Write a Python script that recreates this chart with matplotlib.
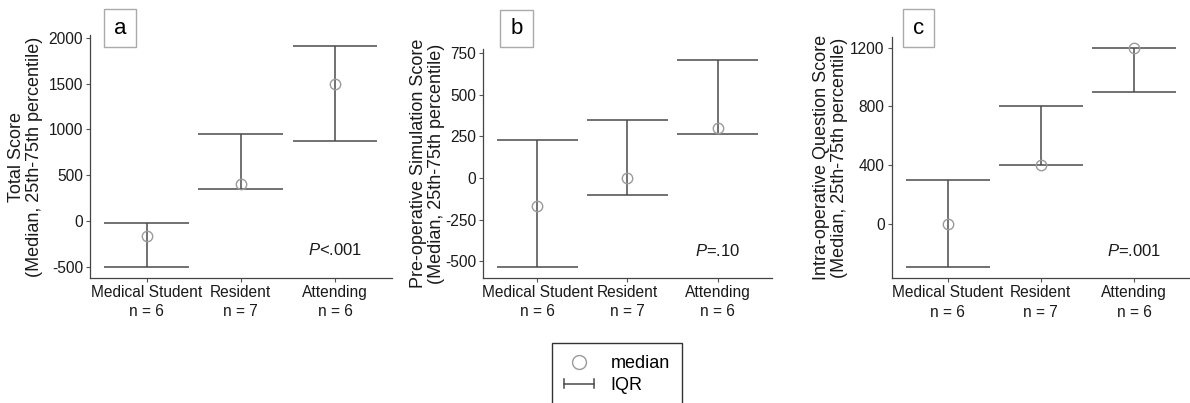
import matplotlib
matplotlib.use("Agg")
import matplotlib.pyplot as plt
import matplotlib.transforms as mtransforms
from matplotlib.legend_handler import HandlerBase
from matplotlib.lines import Line2D
from matplotlib.patches import Rectangle

plt.rcParams["font.family"] = ["Liberation Sans", "DejaVu Sans"]
plt.rcParams["axes.unicode_minus"] = False
plt.rcParams["mathtext.fontset"] = "custom"
plt.rcParams["mathtext.it"] = "Liberation Sans:italic"
plt.rcParams["mathtext.rm"] = "Liberation Sans"

# ---- data ----
groups = ["Medical Student", "Resident", "Attending"]
group_n = [6, 7, 6]

total_median = [-170, 400, 1500]
total_q1 = [-505, 350, 870]
total_q3 = [-20, 950, 1910]
total_ticks = [-500, 0, 500, 1000, 1500, 2000]

preop_median = [-170, 0, 300]
preop_q1 = [-535, -100, 265]
preop_q3 = [225, 350, 710]
preop_ticks = [-500, -250, 0, 250, 500, 750]

intraop_median = [0, 400, 1200]
intraop_q1 = [-300, 400, 900]
intraop_q3 = [300, 800, 1200]
intraop_ticks = [0, 400, 800, 1200]

panel_letters = ["a", "b", "c"]
p_labels = [r"$\it{P}$<.001", r"$\it{P}$=.10", r"$\it{P}$=.001"]
y_titles = [
    "Total Score\n(Median, 25th-75th percentile)",
    "Pre-operative Simulation Score\n(Median, 25th-75th percentile)",
    "Intra-operative Question Score\n(Median, 25th-75th percentile)",
]

LINE_COLOR = "#4a4a4a"
CIRCLE_COLOR = "#9a9a9a"
TEXT_COLOR = "#1a1a1a"


class IQRHandler(HandlerBase):
    """Legend handle: horizontal bar with end caps  |---|"""

    def create_artists(self, legend, orig_handle, xdescent, ydescent,
                       width, height, fontsize, trans):
        x0, x1 = -xdescent, -xdescent + width
        yc = -ydescent + height / 2
        cap = height * 0.32
        kw = dict(color=LINE_COLOR, lw=1.1, transform=trans)
        return [
            Line2D([x0, x1], [yc, yc], **kw),
            Line2D([x0, x0], [yc - cap, yc + cap], **kw),
            Line2D([x1, x1], [yc - cap, yc + cap], **kw),
        ]


def draw_panel(ax, median, q1, q3, ticks, ytitle, p_label, label_x):
    xs = list(range(len(groups)))
    ax.vlines(xs, q1, q3, color=LINE_COLOR, lw=1.1)
    ax.hlines(q1, [x - 0.45 for x in xs], [x + 0.45 for x in xs], color=LINE_COLOR, lw=1.1)
    ax.hlines(q3, [x - 0.45 for x in xs], [x + 0.45 for x in xs], color=LINE_COLOR, lw=1.1)
    ax.plot(xs, median, ls="none", marker="o", ms=7.5, mfc="none",
            mec=CIRCLE_COLOR, mew=1.0, zorder=3)

    # ggplot-like 5% expansion around the data range
    lo, hi = min(q1), max(q3)
    pad = (hi - lo) * 0.05
    ax.set_ylim(lo - pad, hi + pad)
    ax.set_xlim(-0.6, len(groups) - 0.4)

    ax.set_yticks(ticks)
    ax.set_xticks(xs)
    ax.set_xticklabels([f"{g}\nn = {n}" for g, n in zip(groups, group_n)],
                       linespacing=1.35)
    ax.tick_params(axis="both", labelsize=11.2, length=3, width=0.8,
                   colors="#555555", labelcolor=TEXT_COLOR, pad=2)

    for side in ("top", "right"):
        ax.spines[side].set_visible(False)
    for side in ("left", "bottom"):
        ax.spines[side].set_color("#444444")
        ax.spines[side].set_linewidth(0.9)

    ax.set_ylabel(ytitle, fontsize=13, color=TEXT_COLOR, linespacing=1.1,
                  multialignment="center")
    ax.yaxis.set_label_coords(label_x, 0.5)

    trans = mtransforms.blended_transform_factory(ax.transData, ax.transAxes)
    ax.text(2, 0.115, p_label, transform=trans, ha="center", va="center",
            fontsize=12, color=TEXT_COLOR)


fig = plt.figure(figsize=(11.9, 4.03), dpi=100)

panel_rects = [
    (0.0756, 0.310, 0.2535, 0.603),
    (0.4061, 0.311, 0.2424, 0.567),
    (0.7493, 0.309, 0.2507, 0.600),
]
label_xs = [-0.155, -0.133, -0.146]
letter_boxes = [
    (0.0874, 0.8826, 0.0266, 0.0943),
    (0.4202, 0.8841, 0.0275, 0.0911),
    (0.7591, 0.8826, 0.0258, 0.0943),
]

series = [
    (total_median, total_q1, total_q3, total_ticks),
    (preop_median, preop_q1, preop_q3, preop_ticks),
    (intraop_median, intraop_q1, intraop_q3, intraop_ticks),
]

for i, (med, lo, hi, ticks) in enumerate(series):
    ax = fig.add_axes(panel_rects[i])
    draw_panel(ax, med, lo, hi, ticks, y_titles[i], p_labels[i], label_xs[i])

    bx, by, bw, bh = letter_boxes[i]
    fig.add_artist(Rectangle((bx, by), bw, bh, transform=fig.transFigure,
                             facecolor="white", edgecolor="#aaaaaa", lw=1.0, zorder=5))
    fig.text(bx + bw / 2, by + bh / 2, panel_letters[i], ha="center", va="center",
             fontsize=16, color="black", zorder=6)

median_handle = Line2D([], [], ls="none", marker="o", ms=10, mfc="none",
                       mec=CIRCLE_COLOR, mew=1.0)
iqr_handle = object()
fig.legend([median_handle, iqr_handle], ["median", "IQR"],
           handler_map={iqr_handle: IQRHandler()},
           loc="upper left", bbox_to_anchor=(0.4636, 1 - 342.7 / 403),
           bbox_transform=fig.transFigure, fontsize=13, frameon=True,
           fancybox=False, edgecolor="#333333", framealpha=1,
           handlelength=1.65, handletextpad=0.9, borderpad=0.7,
           labelspacing=0.25, borderaxespad=0)

fig.savefig("out.png", dpi=100)
